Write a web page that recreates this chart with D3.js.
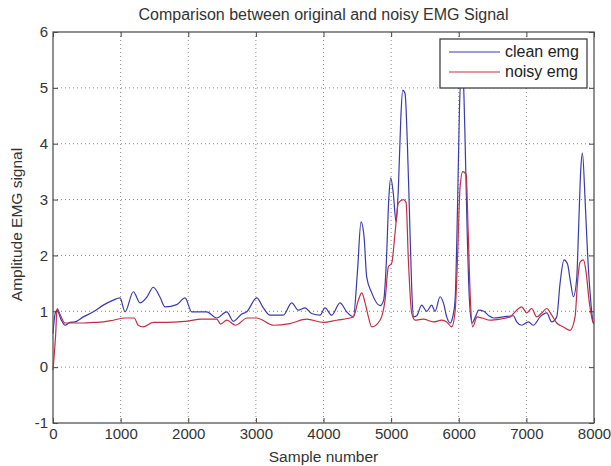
<!DOCTYPE html>
<html lang="en">
<head>
    <meta charset="UTF-8">
    <title>EMG comparison</title>
    <script src="https://d3js.org/d3.v7.min.js"></script>
    <style>
        body { margin: 0; background: #fff; }
        svg { display: block; font-family: "Liberation Sans", Arial, sans-serif; }
    </style>
</head>
<body>
    <svg id="chart" width="611" height="466"></svg>
    <script>
        // sample positions and values
        const cleanX = [0, 30, 60, 120, 177, 250, 325, 449, 597, 744, 892, 991, 1065, 1188, 1287, 1386, 1484, 1583, 1657, 1830, 1953, 2051, 2273, 2421, 2569, 2667, 2791, 2864, 3012, 3111, 3209, 3406, 3530, 3628, 3727, 3826, 3949, 4023, 4122, 4244, 4343, 4442, 4501, 4555, 4600, 4639, 4713, 4836, 4890, 4930, 4965, 4994, 5033, 5073, 5107, 5142, 5171, 5206, 5240, 5270, 5304, 5329, 5378, 5452, 5526, 5600, 5649, 5724, 5773, 5822, 5872, 5911, 5946, 5981, 6010, 6040, 6065, 6089, 6123, 6158, 6197, 6246, 6296, 6370, 6444, 6513, 6660, 6808, 6857, 6931, 7030, 7104, 7203, 7301, 7375, 7449, 7498, 7557, 7607, 7656, 7695, 7745, 7770, 7804, 7829, 7868, 7902, 7942, 7991, 8000];
        const cleanY = [0.6, 0.95, 1.02, 0.85, 0.75, 0.8, 0.81, 0.9, 0.99, 1.11, 1.2, 1.24, 0.99, 1.35, 1.15, 1.25, 1.43, 1.25, 1.08, 1.12, 1.24, 0.99, 0.99, 0.88, 0.99, 0.82, 0.95, 0.99, 1.24, 1.06, 0.93, 0.93, 1.15, 1.02, 1.06, 0.96, 0.93, 1.06, 0.93, 1.15, 0.99, 0.9, 1.69, 2.6, 2.33, 1.61, 1.33, 1.1, 1.2, 1.9, 3.0, 3.39, 3.1, 2.6, 3.2, 4.42, 4.96, 4.9, 4.01, 2.81, 1.43, 0.9, 0.92, 1.11, 1.0, 1.11, 1.0, 1.26, 1.15, 0.9, 0.79, 0.9, 1.2, 2.81, 4.6, 5.3, 5.2, 4.3, 2.5, 1.2, 0.79, 0.9, 1.02, 1.0, 0.92, 0.88, 0.9, 0.92, 0.81, 0.75, 0.81, 0.75, 0.9, 0.97, 0.81, 0.9, 1.5, 1.92, 1.85, 1.5, 1.26, 1.6, 2.4, 3.53, 3.83, 3.0, 2.1, 1.33, 0.79, 0.78];

        const noisyX = [0, 40, 60, 110, 177, 300, 449, 600, 744, 892, 1065, 1200, 1260, 1330, 1484, 1657, 1953, 2200, 2421, 2480, 2569, 2700, 2870, 3012, 3258, 3504, 3751, 3998, 4195, 4392, 4442, 4516, 4565, 4615, 4664, 4713, 4836, 4910, 4960, 5008, 5058, 5107, 5181, 5221, 5255, 5304, 5354, 5477, 5625, 5748, 5822, 5896, 5946, 5981, 6020, 6059, 6109, 6140, 6172, 6207, 6271, 6345, 6463, 6611, 6759, 6857, 6931, 7005, 7079, 7153, 7227, 7301, 7375, 7449, 7548, 7646, 7720, 7755, 7794, 7844, 7883, 7932, 7991, 8000];
        const noisyY = [-0.05, 0.6, 1.05, 0.93, 0.79, 0.79, 0.79, 0.8, 0.81, 0.84, 0.88, 0.88, 0.75, 0.72, 0.8, 0.8, 0.82, 0.86, 0.86, 0.77, 0.84, 0.75, 0.88, 0.88, 0.75, 0.78, 0.86, 0.8, 0.84, 0.88, 0.9, 1.2, 1.33, 1.15, 0.9, 0.72, 0.84, 1.2, 1.8, 1.86, 2.4, 2.94, 3.0, 2.95, 1.92, 0.97, 0.84, 0.86, 0.81, 0.84, 0.81, 0.72, 1.0, 1.92, 3.23, 3.5, 3.45, 2.4, 1.2, 0.72, 0.9, 0.88, 0.84, 0.86, 0.9, 1.02, 1.08, 0.97, 1.05, 0.9, 0.97, 1.05, 0.93, 0.79, 0.72, 0.66, 0.9, 1.5, 1.88, 1.92, 1.7, 1.15, 0.79, 0.78];

        const xTicks = [0, 1000, 2000, 3000, 4000, 5000, 6000, 7000, 8000];
        const yTicks = [-1, 0, 1, 2, 3, 4, 5, 6];
        const seriesNames = ["clean emg", "noisy emg"];

        const margin = {top: 32, right: 17, bottom: 43, left: 53};
        const W = 611, H = 466;
        const width = W - margin.left - margin.right;
        const height = H - margin.top - margin.bottom;

        const svg = d3.select("#chart");
        const g = svg.append("g").attr("transform", `translate(${margin.left},${margin.top})`);

        const x = d3.scaleLinear().domain([0, 8000]).range([0, width]);
        const y = d3.scaleLinear().domain([-1, 6]).range([height, 0]);

        // grid
        g.append("g").selectAll("line").data(xTicks.slice(1, -1)).join("line")
            .attr("x1", d => x(d)).attr("x2", d => x(d)).attr("y1", 0).attr("y2", height)
            .attr("stroke", "#888").attr("stroke-dasharray", "1,3");
        g.append("g").selectAll("line").data(yTicks.slice(1, -1)).join("line")
            .attr("y1", d => y(d)).attr("y2", d => y(d)).attr("x1", 0).attr("x2", width)
            .attr("stroke", "#888").attr("stroke-dasharray", "1,3");

        // the two signals, noisy drawn on top
        const clean = cleanX.map((v, i) => ({x: v, y: cleanY[i]}));
        const noisy = noisyX.map((v, i) => ({x: v, y: noisyY[i]}));
        const line = d3.line().x(d => x(d.x)).y(d => y(d.y)).curve(d3.curveMonotoneX);
        const colors = ["#3a3ab0", "#c42e42"];

        g.append("path").datum(clean).attr("fill", "none").attr("stroke", colors[0]).attr("stroke-width", 1.2).attr("d", line);
        g.append("path").datum(noisy).attr("fill", "none").attr("stroke", colors[1]).attr("stroke-width", 1.2).attr("d", line);

        // axes, ticks inward like matlab
        const axStyle = sel => {
            sel.select(".domain").remove();
            sel.selectAll("line").attr("stroke", "#444");
            sel.selectAll("text").attr("fill", "#333").style("font-size", "15px");
        };
        g.append("g").attr("transform", `translate(0,${height})`)
            .call(d3.axisBottom(x).tickValues(xTicks).tickSize(-5).tickPadding(5).tickFormat(d => String(d)))
            .call(axStyle);
        g.append("g")
            .call(d3.axisTop(x).tickValues(xTicks).tickSize(-5).tickFormat(""))
            .call(axStyle);
        g.append("g")
            .call(d3.axisLeft(y).tickValues(yTicks).tickSize(-5).tickPadding(5).tickFormat(d => String(d)))
            .call(axStyle);
        g.append("g").attr("transform", `translate(${width},0)`)
            .call(d3.axisRight(y).tickValues(yTicks).tickSize(-5).tickFormat(""))
            .call(axStyle);

        g.append("rect").attr("width", width).attr("height", height)
            .attr("fill", "none").attr("stroke", "#555").attr("stroke-width", 1.3);

        // legend
        const leg = g.append("g").attr("transform", `translate(${440 - margin.left},${39 - margin.top})`);
        leg.append("rect").attr("width", 147).attr("height", 49)
            .attr("fill", "#fff").attr("stroke", "#333").attr("stroke-width", 1.2);
        seriesNames.forEach((name, i) => {
            leg.append("line").attr("x1", 9).attr("x2", 60).attr("y1", 13 + i * 20).attr("y2", 13 + i * 20)
                .attr("stroke", colors[i]).attr("stroke-width", 1.2);
            leg.append("text").attr("x", 65).attr("y", 18 + i * 20)
                .style("font-size", "16px").attr("fill", "#222").text(name);
        });

        // titles
        svg.append("text").attr("x", margin.left + width / 2).attr("y", 20).attr("text-anchor", "middle")
            .style("font-size", "16px").attr("fill", "#333").text("Comparison between original and noisy EMG Signal");
        svg.append("text").attr("x", margin.left + width / 2).attr("y", 462).attr("text-anchor", "middle")
            .style("font-size", "15.5px").attr("fill", "#333").text("Sample number");
        svg.append("text").attr("transform", `translate(22,${margin.top + height / 2 - 3}) rotate(-90)`)
            .attr("text-anchor", "middle").style("font-size", "15.5px").attr("fill", "#333").text("Amplitude EMG signal");
    </script>
</body>
</html>
